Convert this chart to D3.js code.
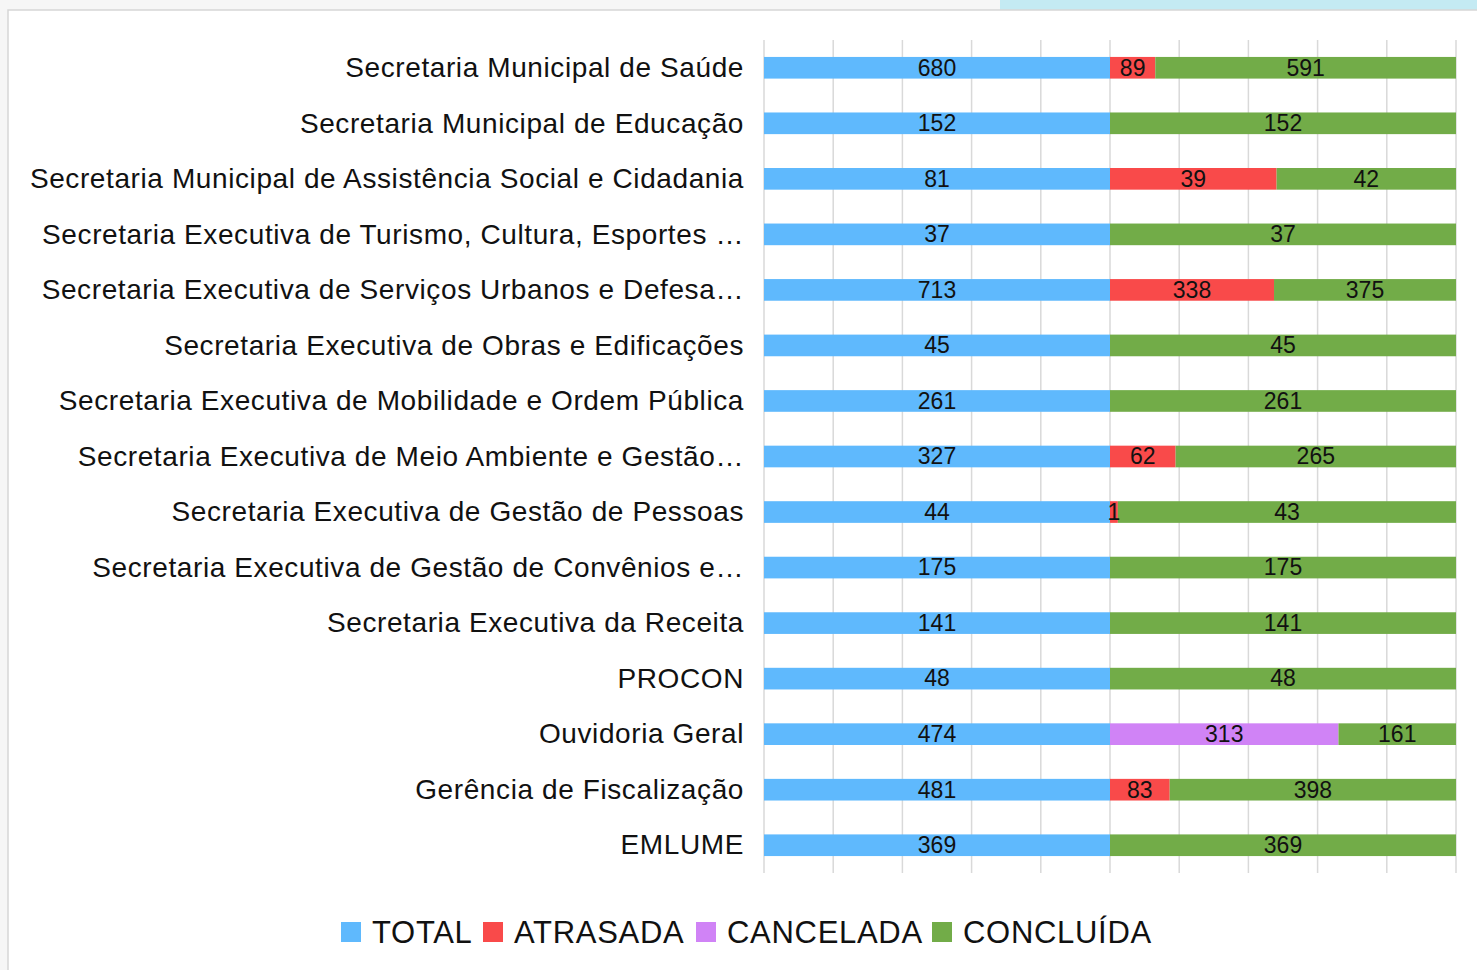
<!DOCTYPE html>
<html>
<head>
<meta charset="utf-8">
<script src="https://cdn.jsdelivr.net/npm/d3@7"></script>
<style>
  body { margin: 0; background: #fff; }
  text { font-family: "Liberation Sans", Arial, sans-serif; }
</style>
</head>
<body>
<script>
// categories (top to bottom)
var categories = [
  "Secretaria Municipal de Saúde",
  "Secretaria Municipal de Educação",
  "Secretaria Municipal de Assistência Social e Cidadania",
  "Secretaria Executiva de Turismo, Cultura, Esportes …",
  "Secretaria Executiva de Serviços Urbanos e Defesa…",
  "Secretaria Executiva de Obras e Edificações",
  "Secretaria Executiva de Mobilidade e Ordem Pública",
  "Secretaria Executiva de Meio Ambiente e Gestão…",
  "Secretaria Executiva de Gestão de Pessoas",
  "Secretaria Executiva de Gestão de Convênios e…",
  "Secretaria Executiva da Receita",
  "PROCON",
  "Ouvidoria Geral",
  "Gerência de Fiscalização",
  "EMLUME"
];

var seriesNames = ["TOTAL", "ATRASADA", "CANCELADA", "CONCLUÍDA"];
var total     = [680, 152, 81, 37, 713, 45, 261, 327, 44, 175, 141, 48, 474, 481, 369];
var atrasada  = [89, 0, 39, 0, 338, 0, 0, 62, 1, 0, 0, 0, 0, 83, 0];
var cancelada = [0, 0, 0, 0, 0, 0, 0, 0, 0, 0, 0, 0, 313, 0, 0];
var concluida = [591, 152, 42, 37, 375, 45, 261, 265, 43, 175, 141, 48, 161, 398, 369];

var colors = ["#5fb9fd", "#f94a4a", "#d083f6", "#72ac48"];

var w = 1477, h = 970;

var svg = d3.select("body").append("svg")
  .attr("width", w)
  .attr("height", h);

// page frame + decoration
svg.append("rect").attr("x", 0).attr("y", 0).attr("width", w).attr("height", h).attr("fill", "#f6f6f6");
svg.append("rect").attr("x", 1000).attr("y", 0).attr("width", 477).attr("height", 10).attr("fill", "#c4eaf3");
svg.append("rect").attr("x", 8).attr("y", 10).attr("width", w).attr("height", h)
  .attr("fill", "#fff").attr("stroke", "#d6d6d6").attr("stroke-width", 1.5);

var table = categories.map(function(c, i) {
  return { cat: c, TOTAL: total[i], ATRASADA: atrasada[i], CANCELADA: cancelada[i], "CONCLUÍDA": concluida[i] };
});

var stack = d3.stack().keys(seriesNames).offset(d3.stackOffsetExpand);
var layers = stack(table);

var x = d3.scaleLinear().domain([0, 1]).range([764, 1456]);
var y = d3.scaleBand().domain(categories).range([40, 873]).paddingInner(0.61).paddingOuter(0.305);

// gridlines
svg.append("g").selectAll("line")
  .data(d3.range(0, 1.0001, 0.1))
  .enter().append("line")
  .attr("x1", function(d) { return x(d); })
  .attr("x2", function(d) { return x(d); })
  .attr("y1", 40).attr("y2", 873)
  .attr("stroke", "#d9d9d9").attr("stroke-width", 1.5);

// bars
var g = svg.append("g").selectAll("g")
  .data(layers)
  .enter().append("g")
  .attr("fill", function(d, i) { return colors[i]; });

g.selectAll("rect")
  .data(function(d) { return d; })
  .enter().append("rect")
  .attr("x", function(d) { return x(d[0]); })
  .attr("y", function(d) { return y(d.data.cat); })
  .attr("width", function(d) { return x(d[1]) - x(d[0]); })
  .attr("height", y.bandwidth());

// value labels
layers.forEach(function(layer) {
  svg.append("g").selectAll("text")
    .data(layer.filter(function(d) { return d.data[layer.key] > 0; }))
    .enter().append("text")
    .text(function(d) { return d.data[layer.key]; })
    .attr("x", function(d) { return (x(d[0]) + x(d[1])) / 2; })
    .attr("y", function(d) { return y(d.data.cat) + y.bandwidth() / 2; })
    .attr("dy", "0.34em")
    .attr("text-anchor", "middle")
    .attr("font-size", "23px")
    .attr("fill", "#111");
});

// category axis labels
svg.append("g").selectAll("text")
  .data(categories)
  .enter().append("text")
  .text(function(d) { return d; })
  .attr("x", 744)
  .attr("y", function(d) { return y(d) + y.bandwidth() / 2; })
  .attr("dy", "0.33em")
  .attr("text-anchor", "end")
  .attr("font-size", "28px")
  .attr("letter-spacing", "0.6px")
  .attr("fill", "#111");

// legend
var legendX = [341, 483, 696, 932];
var legend = svg.append("g").selectAll("g")
  .data(seriesNames)
  .enter().append("g")
  .attr("transform", function(d, i) { return "translate(" + legendX[i] + ",922)"; });
legend.append("rect")
  .attr("width", 20).attr("height", 20)
  .attr("fill", function(d, i) { return colors[i]; });
legend.append("text")
  .text(function(d) { return d; })
  .attr("x", 31).attr("y", 10)
  .attr("dy", "0.36em")
  .attr("font-size", "31px")
  .attr("letter-spacing", "0.7px")
  .attr("fill", "#111");
</script>
</body>
</html>
